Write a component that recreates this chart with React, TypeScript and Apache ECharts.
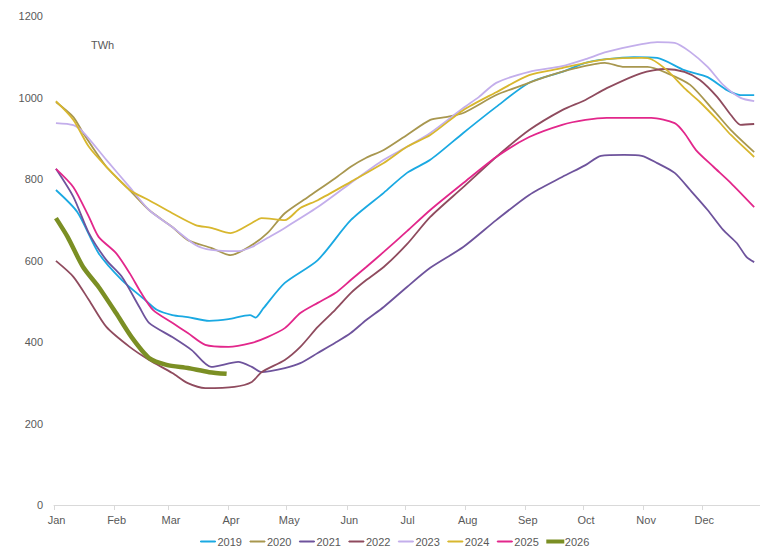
import React, { useEffect, useRef } from "react";
import * as echarts from "echarts";

const MONTHS = ["Jan", "Feb", "Mar", "Apr", "May", "Jun", "Jul", "Aug", "Sep", "Oct", "Nov", "Dec"];
const MONTH_LENGTHS = [31, 28, 31, 30, 31, 30, 31, 31, 30, 31, 30, 31];
const Y_TICKS = [0, 200, 400, 600, 800, 1000, 1200];
const UNIT = "TWh";

// [day of year (0-based), TWh]
const s2019 = [
  [1, 773], [12, 719], [23, 618], [35, 552], [47, 503], [53, 479], [61, 466], [69, 461], [80, 452],
  [90, 456], [101, 466], [104, 460], [108, 483], [119, 545], [136, 601], [153, 699], [170, 766],
  [182, 815], [194, 847], [211, 913], [228, 977], [245, 1036], [262, 1063], [274, 1085], [285, 1094],
  [299, 1099], [311, 1097], [325, 1067], [337, 1050], [347, 1018], [354, 1006], [361, 1006],
];
const s2020 = [
  [1, 989], [10, 952], [15, 913], [27, 830], [39, 773], [49, 724], [61, 682], [69, 650], [81, 631],
  [91, 613], [102, 638], [110, 667], [119, 716], [131, 756], [145, 802], [153, 830], [161, 852],
  [170, 871], [182, 908], [194, 945], [202, 952], [211, 962], [228, 1006], [242, 1031], [253, 1050],
  [269, 1072], [284, 1085], [294, 1075], [306, 1075], [316, 1060], [328, 1031], [340, 969],
  [349, 920], [361, 866],
];
const s2021 = [
  [1, 825], [10, 756], [18, 667], [27, 601], [35, 560], [44, 486], [49, 447], [61, 412], [71, 380],
  [81, 339], [95, 351], [102, 339], [107, 326], [119, 336], [127, 348], [136, 373], [145, 398],
  [153, 422], [161, 454], [170, 486], [182, 535], [194, 582], [211, 633], [228, 699], [245, 761],
  [262, 805], [274, 834], [282, 857], [294, 859], [303, 857], [311, 839], [320, 815], [328, 773],
  [337, 724], [345, 675], [352, 643], [357, 609], [361, 596],
];
const s2022 = [
  [1, 599], [10, 560], [18, 503], [27, 437], [39, 388], [49, 356], [61, 324], [69, 299], [78, 287],
  [93, 290], [102, 302], [107, 326], [119, 356], [127, 388], [136, 437], [145, 479], [153, 520],
  [161, 552], [170, 584], [182, 640], [194, 707], [211, 780], [228, 854], [245, 920], [262, 969],
  [274, 994], [285, 1023], [303, 1060], [315, 1070], [325, 1063], [333, 1043], [342, 1001],
  [349, 957], [354, 933], [361, 935],
];
const s2023 = [
  [1, 937], [10, 932], [15, 915], [27, 847], [39, 780], [49, 724], [61, 682], [73, 638], [81, 626],
  [95, 623], [102, 633], [110, 655], [119, 680], [136, 731], [153, 790], [170, 847], [182, 879],
  [194, 913], [211, 974], [219, 1001], [228, 1036], [245, 1063], [262, 1077], [274, 1094],
  [285, 1112], [303, 1131], [311, 1136], [320, 1134], [328, 1112], [337, 1075], [345, 1031],
  [354, 999], [361, 991],
];
const s2024 = [
  [1, 991], [10, 945], [18, 879], [27, 830], [39, 773], [49, 748], [61, 716], [73, 687], [81, 680],
  [91, 667], [102, 692], [107, 704], [119, 699], [127, 729], [136, 748], [153, 793], [170, 839],
  [182, 879], [194, 908], [211, 969], [228, 1013], [245, 1055], [262, 1072], [274, 1085],
  [285, 1094], [303, 1097], [308, 1094], [316, 1067], [325, 1023], [333, 989], [342, 945],
  [349, 908], [361, 854],
];
const s2025 = [
  [1, 825], [10, 780], [18, 707], [23, 658], [32, 618], [39, 569], [45, 520], [51, 479], [61, 447],
  [69, 422], [78, 393], [90, 388], [102, 398], [110, 412], [119, 434], [127, 471], [136, 496],
  [145, 520], [153, 552], [161, 584], [170, 621], [182, 672], [194, 724], [211, 790], [228, 854],
  [245, 903], [262, 933], [274, 945], [285, 950], [308, 950], [320, 937], [325, 913], [331, 871],
  [340, 830], [349, 790], [361, 731],
];
const s2026 = [
  [1, 704], [7, 658], [15, 584], [23, 535], [32, 471], [40, 412], [49, 361], [58, 344], [69, 336],
  [80, 326], [89, 322],
];

const SERIES = [
  { name: "2019", data: s2019, color: "#1AA9E2", width: 1.8 },
  { name: "2020", data: s2020, color: "#A8974F", width: 1.8 },
  { name: "2021", data: s2021, color: "#6E539C", width: 1.8 },
  { name: "2022", data: s2022, color: "#8F4B5E", width: 1.8 },
  { name: "2023", data: s2023, color: "#C3AEEB", width: 1.8 },
  { name: "2024", data: s2024, color: "#D8B72E", width: 1.8 },
  { name: "2025", data: s2025, color: "#E2278B", width: 1.8 },
  { name: "2026", data: s2026, color: "#7B8F24", width: 4.5 },
];

// build day categories & month-start indices
const monthStarts: number[] = [];
const categories: string[] = [];
{
  let d = 0;
  MONTH_LENGTHS.forEach((len, m) => {
    monthStarts.push(d);
    for (let i = 0; i < len; i++) categories.push(MONTHS[m] + " " + (i + 1));
    d += len;
  });
}
const monthStartSet = new Set(monthStarts);

export default function App() {
  const ref = useRef<HTMLDivElement>(null);
  useEffect(() => {
    if (!ref.current) return;
    const chart = echarts.init(ref.current, undefined, { renderer: "svg" });
    const textColor = "#595959";
    const font = "'Liberation Sans', Arial, sans-serif";
    chart.setOption({
      animation: false,
      backgroundColor: "#ffffff",
      textStyle: { fontFamily: font },
      grid: { left: 54, top: 16, width: 713, height: 489, containLabel: false },
      graphic: [
        {
          type: "text",
          left: 91,
          top: 39,
          style: { text: UNIT, fill: textColor, fontSize: 11, fontFamily: font },
        },
      ],
      legend: {
        left: 195,
        top: 531,
        padding: 5,
        icon: "rect",
        itemWidth: 15,
        itemHeight: 1,
        itemGap: 7.5,
        textStyle: { color: textColor, fontSize: 11, fontFamily: font, padding: [0, 0, 0, -3] },
        data: SERIES.map((s) => ({
          name: s.name,
          itemStyle: { color: s.color, borderColor: s.color, borderWidth: s.width > 2 ? 3 : 1 },
        })),
      },
      xAxis: {
        type: "category",
        data: categories,
        boundaryGap: false,
        axisLine: { show: true, lineStyle: { color: "#D9D9D9", width: 1 } },
        axisTick: {
          show: true,
          length: 5,
          interval: (i: number) => monthStartSet.has(i),
          lineStyle: { color: "#D9D9D9" },
        },
        axisLabel: {
          interval: (i: number) => monthStartSet.has(i),
          formatter: (v: string) => v.split(" ")[0],
          color: textColor,
          fontSize: 11,
          fontFamily: font,
          margin: 9,
          padding: [0, 0, 0, 5],
        },
        splitLine: { show: false },
      },
      yAxis: {
        type: "value",
        min: Y_TICKS[0],
        max: Y_TICKS[Y_TICKS.length - 1],
        interval: Y_TICKS[1] - Y_TICKS[0],
        axisLine: { show: false },
        axisTick: { show: false },
        splitLine: { show: false },
        axisLabel: {
          color: textColor,
          fontSize: 11,
          fontFamily: font,
          margin: 11,
          formatter: (v: number) => String(v),
        },
      },
      series: SERIES.map((s, i) => ({
        name: s.name,
        type: "line",
        data: s.data,
        symbol: "none",
        showSymbol: false,
        smooth: 0.25,
        color: s.color,
        z: 2 + i,
        lineStyle: { color: s.color, width: s.width },
        emphasis: { disabled: true },
      })),
    });
    return () => chart.dispose();
  }, []);
  return (
    <div
      ref={ref}
      style={{ position: "fixed", left: 0, top: 0, width: 760, height: 548, background: "#fff" }}
    />
  );
}
